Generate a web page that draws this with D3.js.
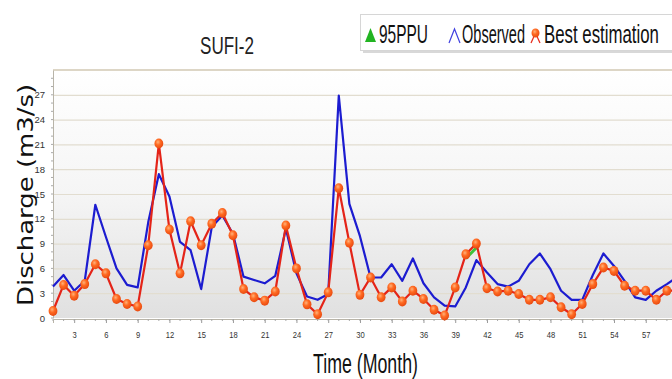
<!DOCTYPE html>
<html>
<head>
<meta charset="utf-8">
<script src="https://cdn.jsdelivr.net/npm/d3@7"></script>
<style>
  body { margin: 0; background: #fff; }
  svg { display: block; }
</style>
</head>
<body>
<svg id="chart" width="672" height="379"></svg>
<script>
// monthly discharge (month 1..60)
const observed = [3.8, 5.2, 3.3, 4.5, 13.7, 9.8, 6.0, 4.0, 3.7, 11.6,
                  17.4, 14.7, 9.2, 8.2, 3.5, 11.0, 12.4, 10.2, 5.0, 4.6,
                  4.2, 5.1, 10.8, 5.4, 2.6, 2.2, 2.9, 26.9, 13.8, 9.9,
                  4.9, 4.9, 6.5, 4.5, 7.2, 4.2, 2.5, 1.5, 1.4, 3.7,
                  7.0, 5.5, 4.1, 3.8, 4.5, 6.5, 7.8, 5.9, 3.3, 2.2,
                  2.2, 5.2, 7.8, 6.3, 4.5, 2.5, 2.2, 3.3, 4.1, 5.0];
const best = [0.85, 4.0, 2.7, 4.1, 6.5, 5.4, 2.3, 1.7, 1.4, 8.8,
              21.1, 10.7, 5.4, 11.7, 8.8, 11.4, 12.7, 10.0, 3.5, 2.5,
              2.1, 3.2, 11.2, 6.0, 1.65, 0.45, 3.1, 15.7, 9.1, 2.8,
              4.9, 2.5, 3.7, 2.0, 3.3, 2.3, 1.0, 0.3, 3.7, 7.7,
              9.0, 3.6, 3.2, 3.3, 2.9, 2.2, 2.2, 2.5, 1.3, 0.45,
              1.7, 4.1, 6.1, 5.7, 3.9, 3.3, 3.3, 2.2, 3.3, 3.3];
// only a sliver of the 95PPU band shows (months 40-41)
const ppuMonths = [40, 41];
const ppuValues = [7.2, 8.5];

const yTicks = [0, 3, 6, 9, 12, 15, 18, 21, 24, 27];
const xTicks = [3, 6, 9, 12, 15, 18, 21, 24, 27, 30, 33, 36, 39, 42, 45, 48, 51, 54, 57];

const svg = d3.select("#chart");
const plotLeft = 53, plotTop = 70, plotBottom = 318, plotRight = 677.5;
const condensed = "'Liberation Sans', Arial, sans-serif";

const x = d3.scaleLinear().domain([1, 60]).range([plotLeft, plotRight]);
const y = d3.scaleLinear().domain([0, 30]).range([plotBottom, plotTop]);

const defs = svg.append("defs");
const bg = defs.append("linearGradient").attr("id", "bg").attr("x1", 0).attr("y1", 0).attr("x2", 0).attr("y2", 1);
bg.append("stop").attr("offset", "0%").attr("stop-color", "#ffffff");
bg.append("stop").attr("offset", "50%").attr("stop-color", "#f5f5f5");
bg.append("stop").attr("offset", "100%").attr("stop-color", "#e0e0e0");

const dotGrad = defs.append("radialGradient").attr("id", "dot").attr("cx", "40%").attr("cy", "35%").attr("r", "65%");
dotGrad.append("stop").attr("offset", "0%").attr("stop-color", "#ffb27a");
dotGrad.append("stop").attr("offset", "45%").attr("stop-color", "#ff6a22");
dotGrad.append("stop").attr("offset", "100%").attr("stop-color", "#e84a10");

// plot background
svg.append("rect")
  .attr("x", plotLeft).attr("y", plotTop)
  .attr("width", 700 - plotLeft).attr("height", plotBottom - plotTop)
  .attr("fill", "url(#bg)");

// horizontal grid
svg.append("g").selectAll("line")
  .data(yTicks.slice(1))
  .join("line")
  .attr("x1", plotLeft).attr("x2", 700)
  .attr("y1", d => y(d) + 0.5).attr("y2", d => y(d) + 0.5)
  .attr("stroke", "#e2ddd0").attr("stroke-width", 1.2);

svg.append("line")
  .attr("x1", plotLeft).attr("x2", 700)
  .attr("y1", plotTop).attr("y2", plotTop)
  .attr("stroke", "#ddd6c6").attr("stroke-width", 2);

// axes
const yAxis = d3.axisLeft(y).tickValues(yTicks).tickSize(0).tickPadding(8);
const gy = svg.append("g").attr("transform", `translate(${plotLeft},0)`).call(yAxis);
gy.select(".domain").attr("stroke", "#b8b4a8");
gy.selectAll("text")
  .attr("font-family", condensed).attr("font-size", 9.5).attr("fill", "#333");

svg.append("g").selectAll("line").data(d3.range(0, 30)).join("line")
  .attr("x1", plotLeft - 2).attr("x2", plotLeft)
  .attr("y1", d => y(d)).attr("y2", d => y(d))
  .attr("stroke", "#aaa");

const xAxis = d3.axisBottom(x).tickValues(xTicks).tickSize(4).tickPadding(8).tickFormat(d3.format("d"));
const gx = svg.append("g").attr("transform", `translate(0,${plotBottom + 1})`).call(xAxis);
gx.select(".domain").attr("stroke", "#b8b4a8");
gx.selectAll(".tick line").attr("stroke", "#999");
gx.selectAll("text")
  .attr("font-family", condensed).attr("font-size", 9.5).attr("fill", "#333")
  .attr("transform", "scale(0.8,1)");

svg.append("g").selectAll("line").data(observed.map((_, i) => i + 1)).join("line")
  .attr("x1", d => x(d)).attr("x2", d => x(d))
  .attr("y1", plotBottom + 1).attr("y2", plotBottom + 3)
  .attr("stroke", "#aaa");

// series
const line = d3.line().x(d => x(d[0])).y(d => y(d[1]));

svg.append("path")
  .datum(ppuMonths.map((m, i) => [m, ppuValues[i]]))
  .attr("d", line).attr("fill", "none")
  .attr("stroke", "#3ec23a").attr("stroke-width", 3);

svg.append("path")
  .datum(observed.map((v, i) => [i + 1, v]))
  .attr("d", line).attr("fill", "none")
  .attr("stroke", "#1c1cd0").attr("stroke-width", 2.2)
  .attr("stroke-linejoin", "round");

const bestPts = best.map((v, i) => [i + 1, v]);
svg.append("path")
  .datum(bestPts)
  .attr("d", line).attr("fill", "none")
  .attr("stroke", "#e42418").attr("stroke-width", 2.2)
  .attr("stroke-linejoin", "round");

svg.append("g").selectAll("ellipse").data(bestPts).join("ellipse")
  .attr("cx", d => x(d[0])).attr("cy", d => y(d[1]))
  .attr("rx", 4.4).attr("ry", 5)
  .attr("fill", "url(#dot)");

// condensed text: squeeze the string horizontally into the width seen in the reference
function label(g, text, xPos, yPos, size, width, anchor) {
  const t = g.append("text")
    .attr("text-anchor", anchor || "start")
    .attr("font-family", condensed).attr("font-size", size)
    .attr("fill", "#111")
    .text(text);
  const sx = width / t.node().getComputedTextLength();
  t.attr("transform", `translate(${xPos},${yPos}) scale(${sx},1)`);
  return t;
}

label(svg, "SUFI-2", 227, 54, 24, 54, "middle").attr("fill", "#222");
label(svg, "Time (Month)", 365.5, 373, 27, 105, "middle");

svg.append("text")
  .attr("transform", "translate(33,195) rotate(-90)")
  .attr("text-anchor", "middle")
  .attr("font-family", "'DejaVu Sans', Verdana, sans-serif")
  .attr("font-size", 21).attr("fill", "#111")
  .attr("textLength", 222).attr("lengthAdjust", "spacingAndGlyphs")
  .text("Discharge (m3/s)");

// legend (box runs off the right edge, as in the reference)
const lg = svg.append("g");
lg.append("rect").attr("x", 363).attr("y", 17).attr("width", 312).attr("height", 36)
  .attr("fill", "#d8d8d8");
lg.append("rect").attr("x", 360.5).attr("y", 14.5).attr("width", 312).attr("height", 36)
  .attr("fill", "#fff").attr("stroke", "#d6d6d6");

lg.append("path").attr("d", "M365,42 L370.5,28 L376,42 Z").attr("fill", "#22b422");
label(lg, "95PPU", 379, 43, 25, 49);

lg.append("path").attr("d", "M449,43 L454.5,29 L460,43").attr("fill", "none")
  .attr("stroke", "#4040e0").attr("stroke-width", 1.2);
label(lg, "Observed", 462, 43, 25, 63);

lg.append("path").attr("d", "M531,43 L535.5,33 L540,43").attr("fill", "none")
  .attr("stroke", "#e83020").attr("stroke-width", 1.3);
lg.append("ellipse").attr("cx", 535.5).attr("cy", 33).attr("rx", 4).attr("ry", 4.5).attr("fill", "url(#dot)");
label(lg, "Best estimation", 544, 43, 25, 115);
</script>
</body>
</html>
